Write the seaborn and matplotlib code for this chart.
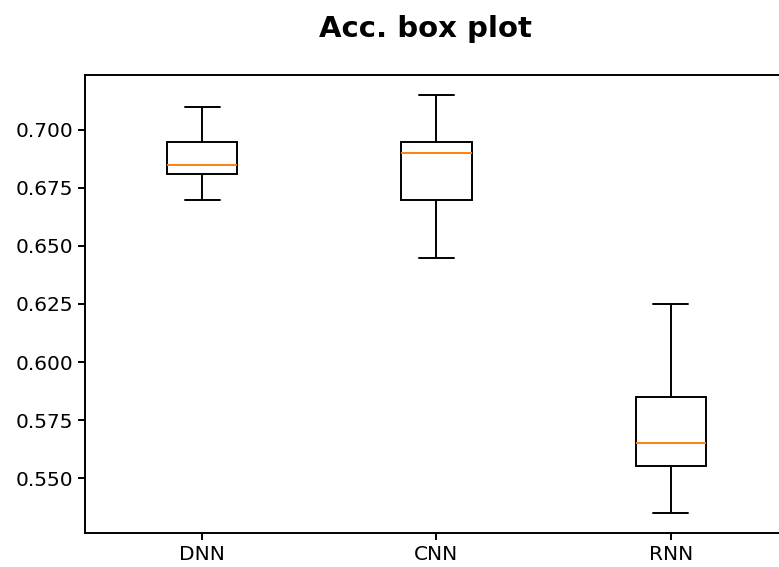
import pandas as pd
import matplotlib
matplotlib.use("Agg")
import matplotlib.pyplot as plt
import seaborn as sns

# accuracy samples per model (min, q1, median, q3, max)
models = ["DNN", "CNN", "RNN"]
dnn_acc = [0.670, 0.681, 0.685, 0.695, 0.710]
cnn_acc = [0.645, 0.670, 0.690, 0.695, 0.715]
rnn_acc = [0.535, 0.555, 0.565, 0.585, 0.625]
y_ticks = [0.550, 0.575, 0.600, 0.625, 0.650, 0.675, 0.700]


def main():
    df = pd.DataFrame({
        "model": ["DNN"] * len(dnn_acc) + ["CNN"] * len(cnn_acc) + ["RNN"] * len(rnn_acc),
        "acc": dnn_acc + cnn_acc + rnn_acc,
    })

    sns.set_style("ticks")
    plt.rcParams["font.family"] = ["DejaVu Sans"]
    plt.rcParams["text.color"] = "black"

    fig = plt.figure(figsize=(7.79, 5.67), dpi=100)
    # axes run a bit past the right edge, like the cropped original
    ax = fig.add_axes([85 / 779, 34 / 567, 703 / 779, 458 / 567])

    lw = 1.4
    sns.boxplot(
        data=df, x="model", y="acc", order=models, ax=ax,
        width=0.3, color="white", linecolor="black", linewidth=lw,
        whis=1.5,
        medianprops={"color": "#ff7f0e", "linewidth": lw},
        boxprops={"facecolor": "white", "edgecolor": "black", "linewidth": lw},
        whiskerprops={"color": "black", "linewidth": lw},
        capprops={"color": "black", "linewidth": lw},
    )

    ax.set_xlim(-0.5, 2.5)
    ax.set_ylim(0.5263, 0.7237)
    ax.set_yticks(y_ticks)
    ax.set_yticklabels([f"{v:.3f}" for v in y_ticks])
    ax.set_xlabel("")
    ax.set_ylabel("")
    for side in ["left", "bottom", "top"]:
        ax.spines[side].set_visible(True)
        ax.spines[side].set_linewidth(lw)
        ax.spines[side].set_color("black")
    ax.spines["right"].set_visible(False)
    ax.tick_params(axis="both", labelsize=14.5, length=5, width=lw, colors="black")

    fig.text(425 / 779, 1 - 29 / 567, "Acc. box plot", ha="center", va="center",
             fontsize=21, fontweight="bold", color="black")

    fig.savefig("out.png", dpi=100, facecolor="white")
    plt.close(fig)


if __name__ == "__main__":
    main()
